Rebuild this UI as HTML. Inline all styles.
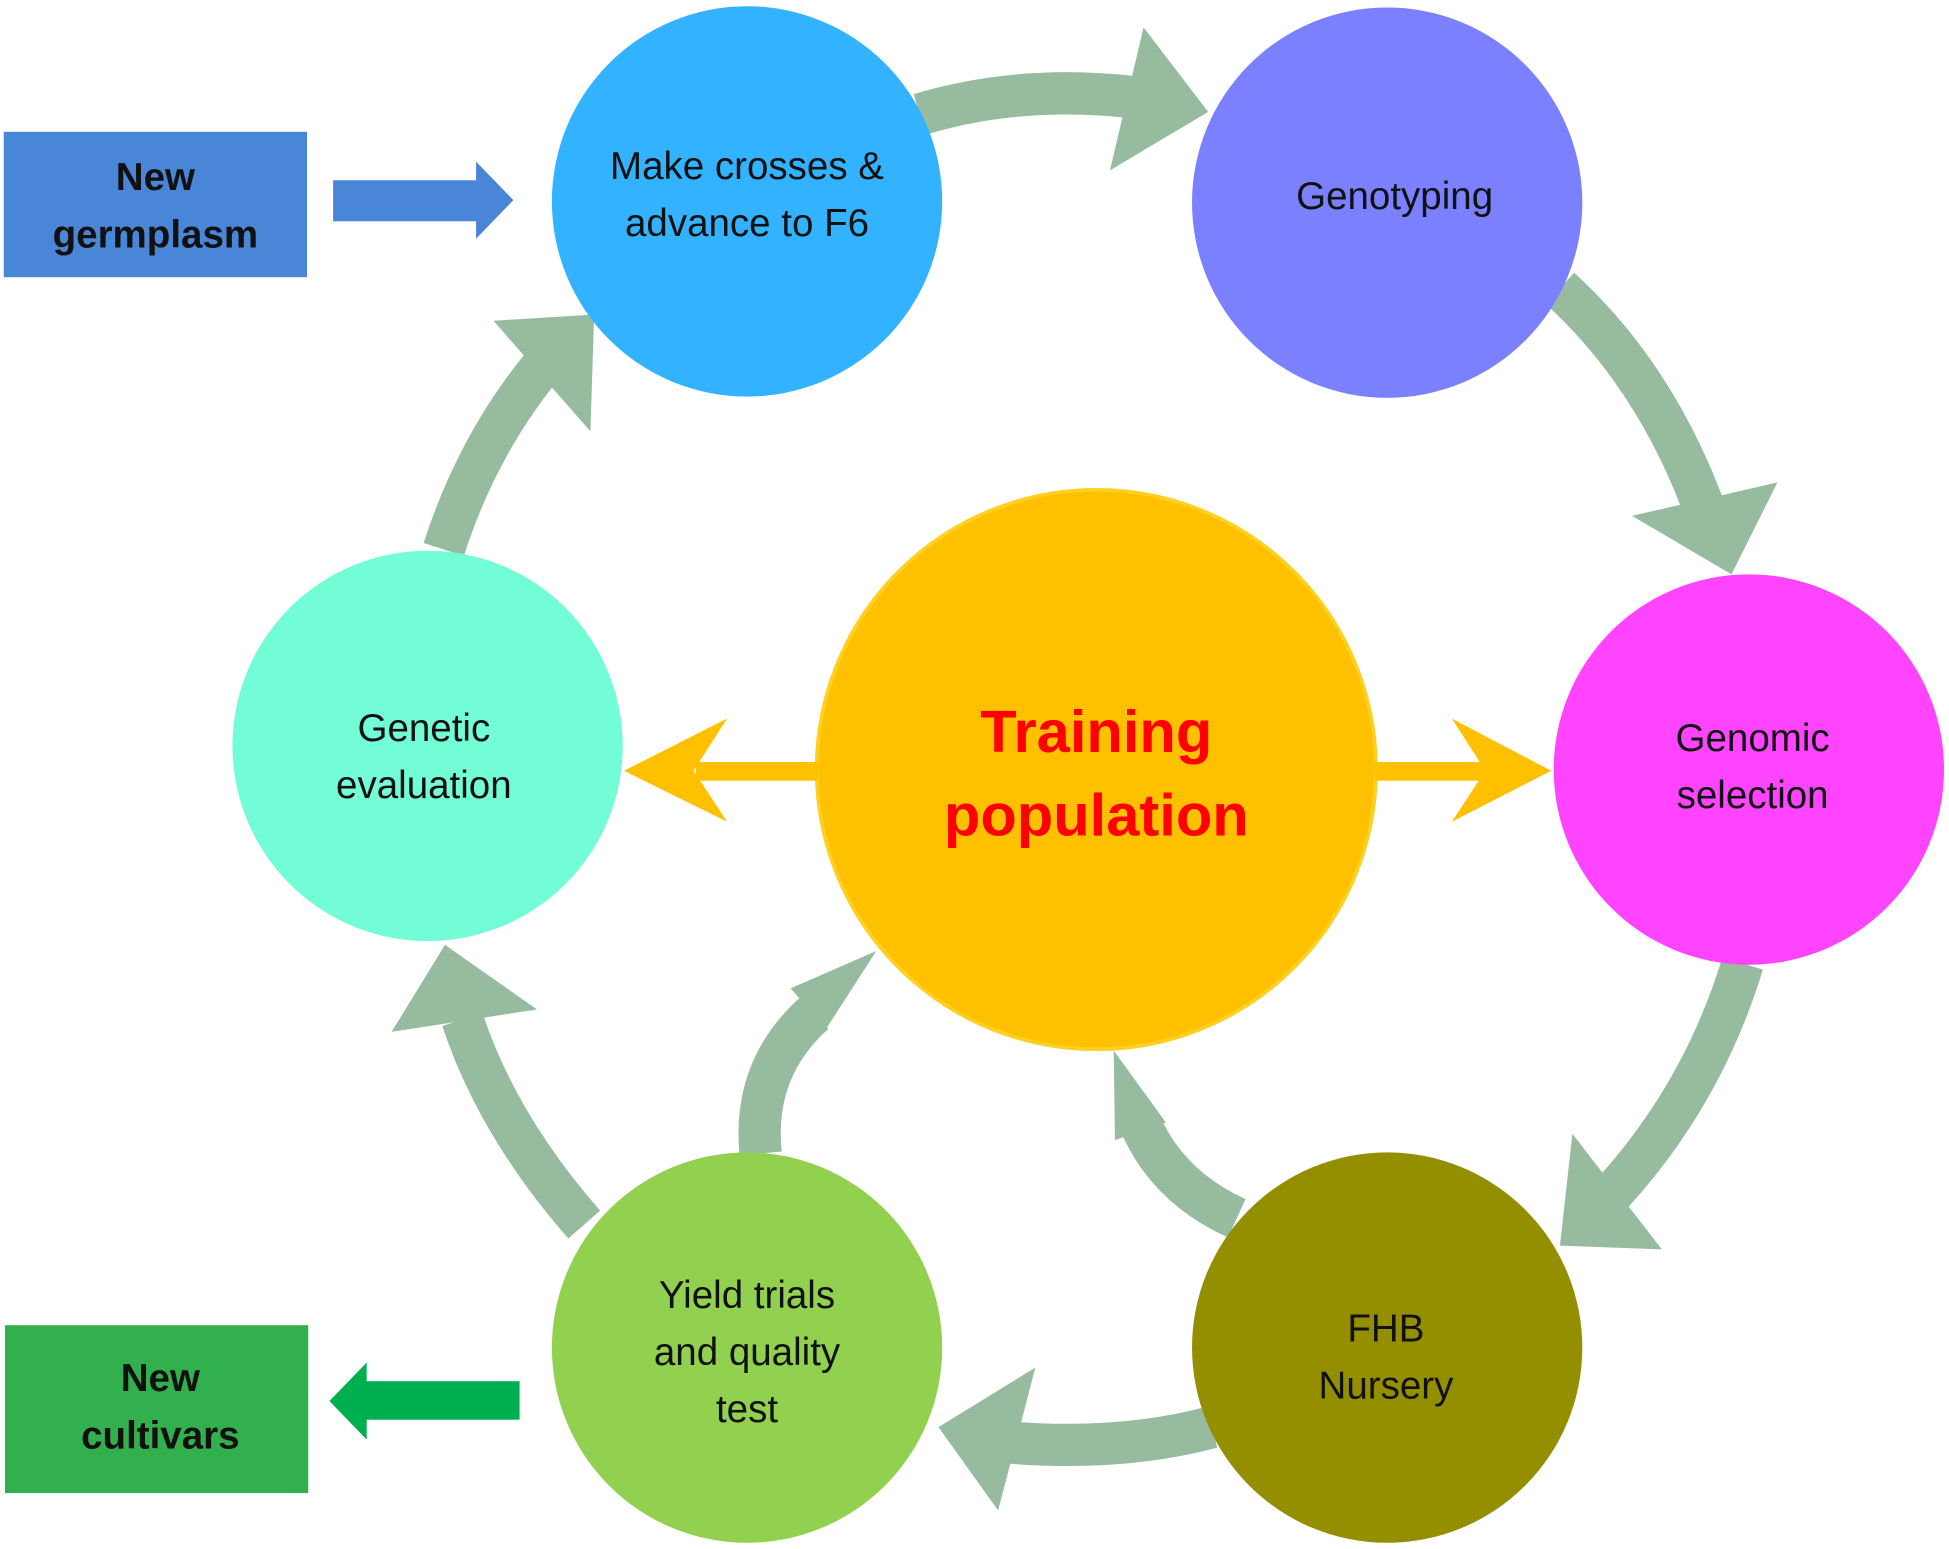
<!DOCTYPE html>
<html><head><meta charset="utf-8"><style>
html,body{margin:0;padding:0;background:#fff}
svg{display:block}
text{font-family:"Liberation Sans",sans-serif;fill:#111;text-anchor:middle}
</style></head><body>
<svg width="1949" height="1549" viewBox="0 0 1568 1246" preserveAspectRatio="none" xmlns="http://www.w3.org/2000/svg">
<g fill="none" stroke="#97bb9f" stroke-width="34">
<path d="M740,92 Q820,68 910,78"/>
<path d="M1255,232 Q1335,305 1375,420"/>
<path d="M1402,775 Q1370,880 1297,960"/>
<path d="M975,1148 Q900,1168 808,1160"/>
<path d="M470,985 Q400,905 372,820"/>
<path d="M357,442 Q385,355 440,290"/>
<path d="M612,928 Q605,860 655,815"/>
<path d="M995,980 Q940,955 918,905"/>
</g>
<g fill="#97bb9f">
<polygon points="920,22 972,90 893,137"/>
<polygon points="1313,415 1430,388 1393,462"/>
<polygon points="1265,912 1337,1005 1255,1002"/>
<polygon points="833,1100 755,1148 803,1215"/>
<polygon points="315,830 358,760 432,812"/>
<polygon points="397,258 478,253 475,347"/>
<polygon points="636,795 705,765 665,827"/>
<polygon points="896,845 938,903 897,917"/>
</g>
<circle cx="601" cy="162" r="157" fill="#33b3ff"/>
<circle cx="1116" cy="163" r="157" fill="#7b80ff"/>
<circle cx="1407" cy="619" r="157" fill="#ff44ff"/>
<circle cx="1116" cy="1084" r="157" fill="#948f00"/>
<circle cx="601" cy="1084" r="157" fill="#92d050"/>
<circle cx="344" cy="600" r="157" fill="#72fdd6"/>
<circle cx="882" cy="619" r="225" fill="#ffc000" stroke="#ffd020" stroke-width="3"/>
<g fill="#ffc000">
<rect x="560" y="613" width="98" height="15"/>
<polygon points="502,620 585,578 558,620 585,661"/>
<rect x="1106" y="613" width="95" height="15"/>
<polygon points="1248,620 1168,578 1195,620 1168,661"/>
</g>
<rect x="3" y="106" width="244" height="117" fill="#4a86d8"/>
<rect x="4" y="1066" width="244" height="135" fill="#33b04e"/>
<rect x="268" y="145" width="116" height="33" fill="#4a86d8"/>
<polygon points="383,130 413,161 383,192" fill="#4a86d8"/>
<rect x="294" y="1111" width="124" height="31" fill="#00b050"/>
<polygon points="295,1096 265,1127 295,1158" fill="#00b050"/>
<g font-size="31">
<text x="601" y="144">Make crosses &amp;</text>
<text x="601" y="190">advance to F6</text>
<text x="1122" y="168">Genotyping</text>
<text x="1410" y="604">Genomic</text>
<text x="1410" y="650">selection</text>
<text x="1115" y="1079">FHB</text>
<text x="1115" y="1125">Nursery</text>
<text x="601" y="1052">Yield trials</text>
<text x="601" y="1098">and quality</text>
<text x="601" y="1144">test</text>
<text x="341" y="596">Genetic</text>
<text x="341" y="642">evaluation</text>
</g>
<g font-size="31" font-weight="bold">
<text x="125" y="153">New</text>
<text x="125" y="199">germplasm</text>
<text x="129" y="1119">New</text>
<text x="129" y="1165">cultivars</text>
</g>
<g font-size="48" font-weight="bold" style="fill:#ff0000">
<text x="882" y="605" style="fill:#ff0000">Training</text>
<text x="882" y="672" style="fill:#ff0000">population</text>
</g>
</svg>
</body></html>
